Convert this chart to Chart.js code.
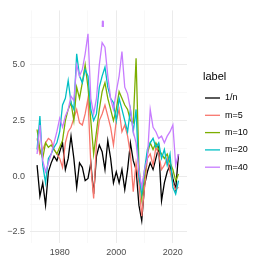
<!DOCTYPE html>
<html>
<head>
<meta charset="utf-8">
<script src="https://cdn.jsdelivr.net/npm/chart.js@4.4.1/dist/chart.umd.min.js"></script>
<style>
  html, body { margin: 0; padding: 0; background: #fff; }
  canvas { display: block; }
</style>
</head>
<body>
<canvas id="chart" width="263" height="263"></canvas>
<script>
// values, one per year
const years = [1972, 1973, 1974, 1975, 1976, 1977, 1978, 1979, 1980, 1981,
  1982, 1983, 1984, 1985, 1986, 1987, 1988, 1989, 1990, 1991,
  1992, 1993, 1994, 1995, 1996, 1997, 1998, 1999, 2000, 2001,
  2002, 2003, 2004, 2005, 2006, 2007, 2008, 2009, 2010, 2011,
  2012, 2013, 2014, 2015, 2016, 2017, 2018, 2019, 2020, 2021, 2022];

const inv_n = [0.5, -0.9, -0.3, -1.3, 0.2, 0.6, 0.9, 0.7, 1.1, 1.5,
  0.3, 0.8, 1.8, 0.8, -0.5, 0.6, 0.4, -0.2, -0.1, 0.6,
  -0.8, 0.9, 1.4, 1.1, 0.3, 1.6, 0.8, -0.3, 0.2, -0.3,
  0.3, -0.6, 0.3, 1.5, 0.7, 0.3, -1.3, -2.0, -0.4, 0.2,
  0.6, 0.3, 0.8, 1.3, -1.1, -0.3, 0.2, 0.5, -0.1, -0.6, 1.0];

const m5 = [1.7, 1.0, 1.2, 1.5, 1.7, 1.6, 1.2, 1.0, 0.8, 0.4,
  1.5, 2.0, 2.2, 2.6, 3.0, 2.4, 2.3, 2.8, 3.5, 0.5,
  -1.0, 1.5, 2.5, 2.8, 3.2, 2.7, 2.2, 1.4, 2.5, 3.0,
  2.0, 2.3, 1.8, 1.0, -0.7, 0.6, -0.3, -1.8, -0.5, 0.8,
  1.0, 0.5, 1.3, 1.0, 0.3, 0.5, 0.8, 0.2, -0.3, -0.6, -0.5];

const m10 = [2.1, 1.2, 0.8, 1.5, 1.3, 1.4, 1.2, 1.0, 1.3, 1.6,
  2.5, 3.0, 3.3, 2.5, 4.0, 3.5, 4.2, 5.0, 4.0, 2.5,
  1.0, 2.0, 3.0, 3.8, 4.2, 3.5, 3.0, 2.5, 3.0, 3.8,
  3.5, 3.2, 3.0, 2.5, 2.4, 5.3, 0.5, -1.0, 0.0, 1.0,
  1.5, 1.2, 1.5, 1.2, 1.0, 0.8, 1.0, 0.6, 0.3, -0.2, 0.1];

const m20 = [1.2, 2.7, 0.5, -0.3, 0.8, 1.0, 1.3, 1.5, 2.0, 3.2,
  3.5, 4.3, 3.3, 3.0, 5.5, 4.5, 4.2, 4.8, 4.5, 3.0,
  2.5, 2.8, 4.0, 4.5, 4.9, 4.0, 3.5, 3.3, 2.5, 3.5,
  3.0, 2.5, 2.0, 3.0, 2.0, 3.0, 0.0, -0.8, 0.3, 1.2,
  1.5, 1.7, 1.3, 1.5, 0.8, 1.2, 0.5, 1.0, -0.5, -0.8, -0.2];

const m40 = [1.0, 2.3, 0.7, 0.2, 0.6, 1.0, 1.5, 2.0, 2.6, 2.2,
  2.7, 3.0, 3.6, 3.4, 5.0, 4.5, 4.8, 5.5, 6.4, 3.5,
  2.8, 3.5, 5.0, 6.0, 5.8, 4.5, 3.5, 3.0, 3.8, 4.5,
  5.6, 4.0, 3.7, 3.0, 2.0, 1.5, 0.3, -0.5, 0.3, 0.8,
  3.0, 2.2, 2.0, 1.7, 1.8, 1.5, 1.8, 2.0, 2.3, 0.5, 1.0];

// short stray piece of the m=40 line near the top
const isoYears = [1995.15, 1995.25];
const isoValues = [6.75, 6.95];

const labels = ['1/n', 'm=5', 'm=10', 'm=20', 'm=40'];
const colors = ['#000000', '#F8766D', '#7CAE00', '#00BFC4', '#C77CFF'];
const seriesValues = [inv_n, m5, m10, m20, m40];

const yMajor = [-2.5, 0, 2.5, 5];
const yTicks = [-2.5, -1.25, 0, 1.25, 2.5, 3.75, 5, 6.25];
const xMajor = [1980, 2000, 2020];
const xTicks = [1970, 1980, 1990, 2000, 2010, 2020];

const toPoints = (xs, ys) => xs.map((x, i) => ({ x, y: ys[i] }));

const datasets = seriesValues.map((vals, i) => ({
  label: labels[i],
  data: toPoints(years, vals),
  borderColor: colors[i],
  borderWidth: 1.3,
  pointRadius: 0,
  tension: 0,
  order: 10 - i,
}));
datasets.push({
  label: '',
  data: toPoints(isoYears, isoValues),
  borderColor: colors[4],
  borderWidth: 2.2,
  borderCapStyle: 'round',
  pointRadius: 0,
  order: 0,
});

const gridColor = (major) => (ctx) =>
  ctx.tick && major.includes(ctx.tick.value) ? '#EBEBEB' : '#F3F3F3';
const gridWidth = (major) => (ctx) =>
  ctx.tick && major.includes(ctx.tick.value) ? 1 : 0.6;

// ggplot-like legend on the right
const legendPlugin = {
  id: 'sideLegend',
  afterDraw(chart) {
    const ctx = chart.ctx;
    ctx.save();
    ctx.fillStyle = '#000';
    ctx.textBaseline = 'middle';
    ctx.font = '11px "Liberation Sans", Arial, sans-serif';
    ctx.fillText('label', 203, 77);
    ctx.font = '9px "Liberation Sans", Arial, sans-serif';
    labels.forEach((lab, i) => {
      const y = 98 + i * 17.3;
      ctx.strokeStyle = colors[i];
      ctx.lineWidth = 1.3;
      ctx.beginPath();
      ctx.moveTo(205, y);
      ctx.lineTo(220, y);
      ctx.stroke();
      ctx.fillStyle = '#000';
      ctx.fillText(lab, 225, y);
    });
    ctx.restore();
  },
};

new Chart(document.getElementById('chart'), {
  type: 'line',
  data: { datasets },
  options: {
    responsive: false,
    animation: false,
    layout: { padding: { left: 0, top: 5, right: 76, bottom: 0 } },
    plugins: { legend: { display: false }, tooltip: { enabled: false } },
    scales: {
      x: {
        type: 'linear',
        min: 1969.5,
        max: 2025,
        afterFit: (s) => { s.height = 20; },
        afterBuildTicks: (s) => { s.ticks = xTicks.map(v => ({ value: v })); },
        border: { display: false },
        grid: { color: gridColor(xMajor), lineWidth: gridWidth(xMajor), drawTicks: false },
        ticks: {
          padding: 4,
          color: '#4D4D4D',
          font: { family: '"Liberation Sans", Arial, sans-serif', size: 9 },
          maxRotation: 0,
          autoSkip: false,
          callback: (v) => (xMajor.includes(v) ? String(v) : ''),
        },
      },
      y: {
        min: -3.0,
        max: 7.45,
        afterFit: (s) => { s.width = 30; },
        afterBuildTicks: (s) => { s.ticks = yTicks.map(v => ({ value: v })); },
        border: { display: false },
        grid: { color: gridColor(yMajor), lineWidth: gridWidth(yMajor), drawTicks: false },
        ticks: {
          padding: 5,
          color: '#4D4D4D',
          font: { family: '"Liberation Sans", Arial, sans-serif', size: 9 },
          autoSkip: false,
          callback: (v) => (yMajor.includes(v) ? v.toFixed(1).replace('-', '\u2212') : ''),
        },
      },
    },
  },
  plugins: [legendPlugin],
});
</script>
</body>
</html>
